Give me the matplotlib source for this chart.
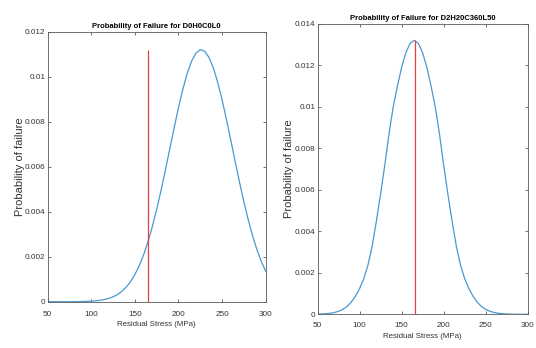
import matplotlib.pyplot as plt

# Residual stress grid (MPa)
stress = list(range(50, 305, 5))

# Probability of failure
pof_d0 = [0.0000001, 0.0000001, 0.0000003, 0.0000005, 0.0000009, 0.0000017, 0.000003, 0.0000052,
          0.0000089, 0.0000149, 0.0000245, 0.000039, 0.000062, 0.000096, 0.000146, 0.000219,
          0.00032, 0.000459, 0.000646, 0.000891, 0.001206, 0.001602, 0.002085, 0.002664,
          0.00334, 0.004106, 0.00495, 0.005855, 0.006793, 0.00773, 0.008628, 0.009448,
          0.010146, 0.010689, 0.011045, 0.011196, 0.011131, 0.010855, 0.010384, 0.009744,
          0.008968, 0.008096, 0.00717, 0.006228, 0.005307, 0.004435, 0.003637, 0.002924,
          0.002306, 0.001784, 0.001354]
pof_d2 = [0.0000085, 0.0000159, 0.0000289, 0.000051, 0.0000877, 0.0001467, 0.0002384, 0.0003771,
          0.00058, 0.0008674, 0.00124, 0.00172, 0.00238, 0.0033, 0.0045, 0.0058,
          0.0072, 0.0087, 0.0100, 0.0110, 0.0119, 0.0126, 0.01305, 0.0132,
          0.01305, 0.0126, 0.0119, 0.0110, 0.0100, 0.0087, 0.0072, 0.0058,
          0.0045, 0.0033, 0.00238, 0.00172, 0.00124, 0.0008674, 0.00058, 0.0003771,
          0.0002384, 0.0001467, 0.0000877, 0.000051, 0.0000289, 0.0000159, 0.0000085,
          0.0000044, 0.0000022, 0.0000011, 0.0000005]

# Applied stress marker (red vertical line)
limit_d0 = 165
limit_d2 = 166

titles = ["Probability of Failure for D0H0C0L0", "Probability of Failure for D2H20C360L50"]
yticks_d0 = [0, 0.002, 0.004, 0.006, 0.008, 0.01, 0.012]
yticks_d2 = [0, 0.002, 0.004, 0.006, 0.008, 0.01, 0.012, 0.014]
xticks = [50, 100, 150, 200, 250, 300]

plt.rcParams['font.family'] = ['Liberation Sans', 'DejaVu Sans']

blue = '#4a98d0'
red = '#e34040'
edge = '#5a5a5a'

fig = plt.figure(figsize=(5.36, 3.48), dpi=100)
ax1 = fig.add_axes([0.089, 0.133, 0.4067, 0.776])
ax2 = fig.add_axes([0.5925, 0.0968, 0.392, 0.835])

# axes, data, red line, y ticks, title, y max, ylabel x, xtick pad, xlabel pad
panels = [(ax1, pof_d0, limit_d0, yticks_d0, titles[0], 0.012, -0.106, 6.5, 2.5),
          (ax2, pof_d2, limit_d2, yticks_d2, titles[1], 0.014, -0.110, 5.2, 3.0)]

for ax, pof, limit, yt, title, ytop, ylab_x, xpad, lpad in panels:
    ax.plot(stress, pof, color=blue, linewidth=0.9, zorder=2, solid_joinstyle='round')
    ax.vlines(limit, 0, max(pof), color=red, linewidth=0.9, zorder=3)
    ax.set_xlim(50, 300)
    ax.set_ylim(0, ytop)
    ax.set_xticks(xticks)
    ax.set_xticklabels([str(v) for v in xticks])
    ax.set_yticks(yt)
    ax.set_yticklabels(['0' if v == 0 else ('%g' % v) for v in yt])
    ax.tick_params(direction='in', top=True, right=True, length=2.5, width=0.6,
                   colors=edge, labelsize=5.9, labelcolor='#333333')
    ax.tick_params(axis='y', pad=1.5)
    ax.tick_params(axis='x', pad=xpad)
    for s in ax.spines.values():
        s.set_color(edge)
        s.set_linewidth(0.6)
    ax.set_title(title, fontsize=5.5, fontweight='bold', pad=3)
    ax.set_xlabel("Residual Stress (MPa)", fontsize=5.7, color='#333333', labelpad=lpad)
    ax.set_ylabel("Probability of failure", fontsize=8.0, color='#333333')
    ax.yaxis.set_label_coords(ylab_x, 0.5)

plt.savefig("out.png", dpi=100)
